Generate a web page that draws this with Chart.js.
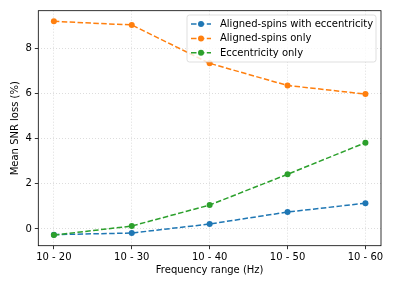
<!DOCTYPE html>
<html>
<head>
<meta charset="utf-8">
<script src="https://cdn.jsdelivr.net/npm/chart.js@4/dist/chart.umd.min.js"></script>
<style>
html,body{margin:0;padding:0;background:#fff;}
#wrap{width:396px;height:288px;}
</style>
</head>
<body>
<div id="wrap"><canvas id="c" width="396" height="288"></canvas></div>
<script>
const categories = ["10 - 20", "10 - 30", "10 - 40", "10 - 50", "10 - 60"];
const alignedEcc = [-0.25, -0.18, 0.22, 0.75, 1.14];
const alignedOnly = [9.19, 9.03, 7.33, 6.35, 5.97];
const eccOnly = [-0.27, 0.13, 1.06, 2.42, 3.82];
const yTicks = [0, 2, 4, 6, 8];
const seriesNames = ["Aligned-spins with eccentricity", "Aligned-spins only", "Eccentricity only"];
const seriesColors = ["#1f77b4", "#ff7f0e", "#2ca02c"];

const FONT = "'DejaVu Sans', sans-serif";
const toPts = arr => arr.map((v, i) => ({x: i, y: v}));
const allSeries = [alignedEcc, alignedOnly, eccOnly];

const datasets = allSeries.map((s, k) => ({
  label: seriesNames[k],
  data: toPts(s),
  borderColor: seriesColors[k],
  backgroundColor: seriesColors[k],
  pointBackgroundColor: seriesColors[k],
  pointBorderColor: seriesColors[k],
  borderWidth: 1.5,
  borderDash: [5.5, 2.4],
  pointRadius: 3,
  pointBorderWidth: 0,
  pointHoverRadius: 3,
  tension: 0,
  fill: false,
  order: 3 - k,
  clip: false
}));

const framePlugin = {
  id: 'frame',
  afterDatasetsDraw(chart) {
    const {ctx, chartArea: a} = chart;
    ctx.save();
    ctx.strokeStyle = '#000';
    ctx.lineWidth = 0.8;
    ctx.strokeRect(a.left, a.top, a.right - a.left, a.bottom - a.top);
    ctx.restore();
  }
};

const legendPlugin = {
  id: 'mplLegend',
  afterDraw(chart) {
    const ctx = chart.ctx;
    const x0 = 187, y0 = 15, w = 189, h = 47, r = 2.5;
    ctx.save();
    ctx.beginPath();
    ctx.roundRect(x0, y0, w, h, r);
    ctx.fillStyle = 'rgba(255,255,255,0.8)';
    ctx.fill();
    ctx.strokeStyle = 'rgba(204,204,204,0.8)';
    ctx.lineWidth = 0.8;
    ctx.stroke();
    const rows = [24, 38.4, 52.7];
    chart.data.datasets.forEach((ds, k) => {
      const yy = rows[k];
      ctx.strokeStyle = ds.borderColor;
      ctx.lineWidth = 1.5;
      ctx.setLineDash([5.5, 2.4]);
      ctx.beginPath();
      ctx.moveTo(191, yy);
      ctx.lineTo(211, yy);
      ctx.stroke();
      ctx.setLineDash([]);
      ctx.fillStyle = ds.borderColor;
      ctx.beginPath();
      ctx.arc(201, yy, 3, 0, Math.PI * 2);
      ctx.fill();
      ctx.fillStyle = '#000';
      ctx.font = "10px " + FONT;
      ctx.textBaseline = 'middle';
      ctx.textAlign = 'left';
      ctx.fillText(ds.label, 220, yy + 0.5);
    });
    ctx.restore();
  }
};

new Chart(document.getElementById('c'), {
  type: 'line',
  data: {datasets},
  options: {
    responsive: false,
    animation: false,
    devicePixelRatio: 1,
    layout: {padding: {left: 0, right: 15, top: 10.7, bottom: 0}},
    plugins: {legend: {display: false}, tooltip: {enabled: false}},
    scales: {
      x: {
        type: 'linear',
        min: -0.2,
        max: 4.2,
        afterBuildTicks: s => { s.ticks = categories.map((c, i) => ({value: i})); },
        afterFit: s => { s.height = 42.3; },
        ticks: {
          callback: v => categories[v],
          color: '#000',
          font: {family: FONT, size: 10},
          padding: 2,
          maxRotation: 0,
          autoSkip: false
        },
        grid: {
          color: '#d4d4d4',
          lineWidth: 0.8,
          tickLength: 3.5,
          tickColor: '#000',
          tickWidth: 0.8,
          tickBorderDash: []
        },
        border: {display: false, dash: [1, 2]},
        title: {
          display: true,
          text: 'Frequency range (Hz)',
          color: '#000',
          font: {family: FONT, size: 10},
          padding: {top: 12, bottom: 12}
        }
      },
      y: {
        type: 'linear',
        min: -0.74,
        max: 9.66,
        afterBuildTicks: s => { s.ticks = yTicks.map(v => ({value: v})); },
        afterFit: s => { s.width = 38.3; },
        ticks: {
          color: '#000',
          font: {family: FONT, size: 10},
          padding: 3
        },
        grid: {
          color: '#d4d4d4',
          lineWidth: 0.8,
          tickLength: 3.5,
          tickColor: '#000',
          tickWidth: 0.8,
          tickBorderDash: []
        },
        border: {display: false, dash: [1, 2]},
        title: {
          display: true,
          text: 'Mean SNR loss (%)',
          color: '#000',
          font: {family: FONT, size: 10},
          padding: {top: 9, bottom: 9}
        }
      }
    }
  },
  plugins: [framePlugin, legendPlugin]
});
</script>
</body>
</html>
